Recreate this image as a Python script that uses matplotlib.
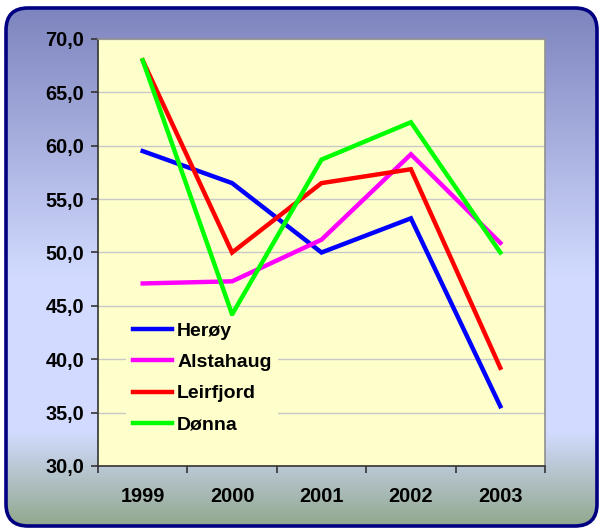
import numpy as np
import matplotlib
matplotlib.use("Agg")
import matplotlib.pyplot as plt
from matplotlib.colors import LinearSegmentedColormap
from matplotlib.patches import FancyBboxPatch

years = ["1999", "2000", "2001", "2002", "2003"]
heroy = [59.5, 56.5, 50.0, 53.2, 35.6]
alstahaug = [47.1, 47.3, 51.2, 59.2, 50.9]
leirfjord = [68.0, 50.0, 56.5, 57.8, 39.2]
donna = [68.0, 44.2, 58.7, 62.2, 50.0]

series = [("Herøy", heroy, "#0000FF"),
          ("Alstahaug", alstahaug, "#FF00FF"),
          ("Leirfjord", leirfjord, "#FF0000"),
          ("Dønna", donna, "#00FF00")]

fig = plt.figure(figsize=(6.0, 5.29), dpi=100)
fig.patch.set_facecolor("white")

# background gradient inside rounded frame
bg = fig.add_axes([0, 0, 1, 1], zorder=0)
bg.set_xlim(0, 600)
bg.set_ylim(529, 0)
bg.axis("off")
cmap = LinearSegmentedColormap.from_list(
    "bg", [(0.0, "#7E84BE"), (0.52, "#D2DBFF"), (0.82, "#D2DBFF"), (1.0, "#92A88E")])
grad = np.linspace(0, 1, 256).reshape(-1, 1)
im = bg.imshow(grad, cmap=cmap, aspect="auto", extent=[6, 597, 526, 8])
frame = FancyBboxPatch((6, 8), 591, 518, boxstyle="round,pad=0,rounding_size=22",
                       facecolor="none", edgecolor="#000080", linewidth=2.6)
bg.add_patch(frame)
im.set_clip_path(frame)

ax = fig.add_axes([98 / 600, 63 / 529, 447 / 600, 427 / 529], zorder=1)
ax.set_facecolor("#FFFFCC")
x = np.arange(len(years))
for name, vals, col in series:
    ax.plot(x, vals, color=col, linewidth=3.2, label=name, solid_joinstyle="miter")

tick_font = {"family": "Liberation Sans", "weight": "bold", "size": 14.3}
ax.set_xlim(-0.5, 4.5)
ax.set_ylim(30, 70)
ax.set_yticks(np.arange(30, 71, 5))
ax.set_yticklabels([f"{v:.1f}".replace(".", ",") for v in np.arange(30, 71, 5)], fontdict=tick_font)
ax.set_xticks(x)
ax.set_xticklabels(years, fontdict=tick_font)
ax.set_xticks(np.arange(-0.5, 5, 1), minor=True)
ax.tick_params(axis="x", which="major", length=0, pad=15)
ax.tick_params(axis="x", which="minor", length=5, width=1.2, direction="out", color="#333333")
ax.tick_params(axis="y", length=5, width=1.2, direction="out", color="#333333", pad=5)
ax.grid(axis="y", color="#C8C8C8", linewidth=1)
ax.set_axisbelow(True)
for side in ["left", "bottom"]:
    ax.spines[side].set_color("#333333")
    ax.spines[side].set_linewidth(1.2)
for side in ["top", "right"]:
    ax.spines[side].set_color("#909090")
    ax.spines[side].set_linewidth(1.2)

leg = ax.legend(loc="upper left", bbox_to_anchor=(0.042, 0.375), frameon=True,
                handlelength=2.0, handletextpad=0.25, labelspacing=0.7, borderpad=0.35,
                prop={"family": "Liberation Sans", "weight": "bold", "size": 14})
leg.get_frame().set_facecolor("#FFFFCC")
leg.get_frame().set_edgecolor("none")
leg.get_frame().set_alpha(1)
leg.get_frame().set_boxstyle("square,pad=0")

fig.savefig("out.png", dpi=100)
